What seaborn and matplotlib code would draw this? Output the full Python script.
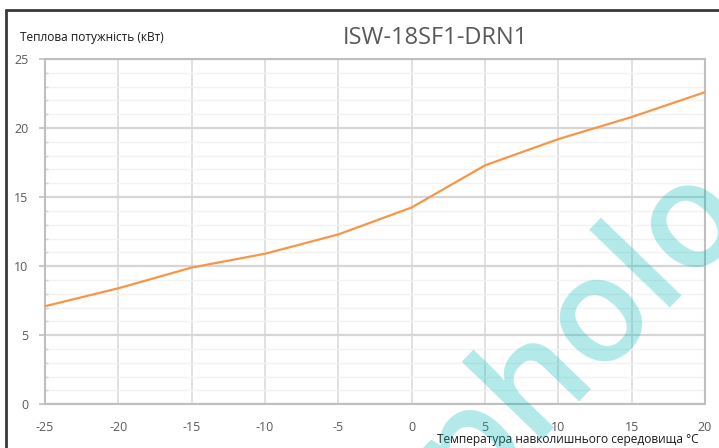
import matplotlib
matplotlib.use("Agg")
import matplotlib.pyplot as plt
import seaborn as sns
import pandas as pd
from matplotlib.lines import Line2D
from matplotlib.ticker import MultipleLocator

# Data
temps = [-25, -20, -15, -10, -5, 0, 5, 10, 15, 20]
power = [7.1, 8.4, 9.9, 10.9, 12.3, 14.25, 17.3, 19.2, 20.8, 22.6]
x_ticks = [-25, -20, -15, -10, -5, 0, 5, 10, 15, 20]
y_ticks = [0, 5, 10, 15, 20, 25]
title = "ISW-18SF1-DRN1"
y_label = "Теплова потужність (кВт)"
x_label = "Температура навколишнього середовища °C"

sns.set_style("white")
plt.rcParams['font.family'] = ['Open Sans', 'DejaVu Sans']

W, H = 719, 448
fig = plt.figure(figsize=(W / 100, H / 100), dpi=100)
ax = fig.add_axes([45 / W, 1 - 404.3 / H, 660 / W, 345.3 / H])

df = pd.DataFrame({"t": temps, "p": power})

# Grid
ax.set_xlim(-25, 20)
ax.set_ylim(0, 25)
ax.xaxis.set_major_locator(MultipleLocator(5))
ax.yaxis.set_major_locator(MultipleLocator(5))
ax.yaxis.set_minor_locator(MultipleLocator(1))
ax.grid(True, which='minor', axis='y', color='#f2f2f2', linewidth=1.0, zorder=0)
ax.grid(True, which='major', axis='y', color='#d6d6d6', linewidth=1.6, zorder=0)
ax.grid(True, which='major', axis='x', color='#dcdcdc', linewidth=1.2, zorder=0)
ax.set_axisbelow(True)

sns.lineplot(data=df, x="t", y="p", ax=ax, color='#f79646', linewidth=1.6, zorder=3)

ax.set_xticks(x_ticks)
ax.set_xticklabels([str(v) for v in x_ticks])
ax.set_yticks(y_ticks)
ax.set_yticklabels([str(v) for v in y_ticks])
ax.set_xlabel("")
ax.set_ylabel("")

for s in ax.spines.values():
    s.set_color('#bfbfbf')
    s.set_linewidth(1.5)

ax.tick_params(axis='x', which='major', length=0, pad=12, labelsize=9, labelcolor='#595959')
ax.tick_params(axis='y', which='major', length=4, width=1.2, color='#bfbfbf', direction='out',
               pad=8, labelsize=9, labelcolor='#595959', left=True)
ax.tick_params(axis='y', which='minor', length=2.5, width=1, color='#d0d0d0', direction='in', left=True)

# Watermark
fig.text(468 / W, 1 - 505 / H, "pholo", fontsize=106, rotation=46, rotation_mode='anchor',
         ha='left', va='baseline', color=(0.0, 0.72, 0.72), alpha=0.3, fontweight='semibold',
         zorder=10)

# Texts
fig.text(435 / W, 1 - 38 / H, title, fontsize=17, color='#595959', ha='center', va='center')
fig.text(20 / W, 1 - 38 / H, y_label, fontsize=8.6, color='#1a1a1a', ha='left', va='center')
fig.text(699 / W, 1 - 439 / H, x_label, fontsize=8.6, color='#1a1a1a', ha='right', va='center')

# Frame border
fig.add_artist(Line2D([5.5 / W, 5.5 / W], [0, 1 - 10 / H], color='#3a3a3a', linewidth=2.0,
                      transform=fig.transFigure))
fig.add_artist(Line2D([5.5 / W, 1], [1 - 10 / H, 1 - 10 / H], color='#3a3a3a', linewidth=2.0,
                      transform=fig.transFigure))

fig.savefig("out.png", dpi=100)
